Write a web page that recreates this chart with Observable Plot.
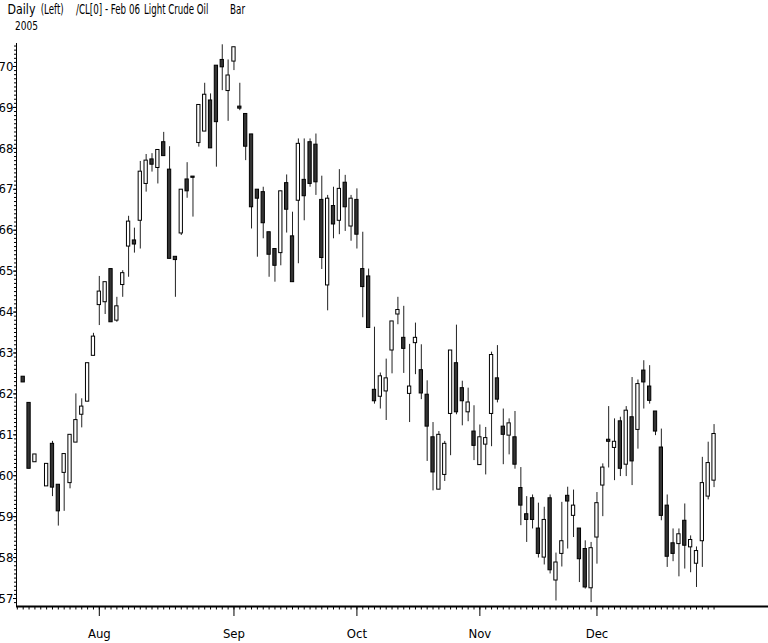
<!DOCTYPE html>
<html><head><meta charset="utf-8">
<script src="https://cdn.jsdelivr.net/npm/d3@7"></script>
<script src="https://cdn.jsdelivr.net/npm/@observablehq/plot@0.6"></script>
<style>
html,body{margin:0;padding:0;background:#fff;}
#wrap{position:relative;width:768px;height:643px;overflow:hidden;background:#fff;}
#head{position:absolute;left:0;top:0;}
#chart{position:absolute;left:0;top:0;}
</style></head><body>
<div id="wrap">
<div id="chart"></div>
<svg id="head" width="300" height="40" font-family='"Liberation Sans Narrow","Arial Narrow","DejaVu Sans Condensed","Liberation Sans",sans-serif' fill="#000">
  <text data-x="7.5" data-y="13.6" data-w="28" data-cap="10">Daily</text>
  <text data-x="40.7" data-y="13.6" data-w="23" data-cap="10">(Left)</text>
  <text data-x="76" data-y="13.6" data-w="64" data-cap="10">/CL[0] - Feb 06</text>
  <text data-x="144" data-y="13.6" data-w="64.5" data-cap="10">Light Crude Oil</text>
  <text data-x="230" data-y="13.6" data-w="15" data-cap="10">Bar</text>
  <text data-x="15" data-y="30" data-w="23" data-cap="9.3">2005</text>
</svg>
</div>
<script>
// Daily candles, CL Feb 06, 13 Jul 2005 .. 30 Dec 2005 (trading-day index 0..118)
const open = [62.42,61.78,60.33,60.00,59.74,60.78,59.78,60.07,59.82,60.81,61.49,61.81,62.93,
  64.17,64.24,65.05,63.79,64.66,65.60,65.75,66.23,67.13,67.73,67.52,68.15,67.48,65.35,65.92,67.24,67.31,
  68.13,68.41,69.17,70.02,70.16,69.40,70.12,69.02,68.84,68.34,66.99,66.93,65.95,65.54,65.44,67.15,65.85,66.72,67.23,68.15,68.09,
  66.74,64.65,66.59,66.23,67.16,66.09,66.74,65.05,64.87,62.10,61.93,62.06,63.06,63.94,63.37,62.00,63.24,62.58,61.98,
  60.94,59.66,60.02,61.51,62.75,62.14,61.55,61.08,60.26,60.76,61.51,62.38,61.20,60.98,60.94,59.70,59.06,59.45,58.71,
  58.00,59.45,57.44,58.09,59.51,59.02,58.71,58.21,57.25,58.49,59.76,60.88,60.68,61.33,60.27,61.43,61.12,62.57,62.18,61.57,
  60.69,59.27,58.35,58.33,58.90,58.25,57.85,58.40,59.49,59.88];
const high = [62.42,61.78,60.52,60.00,60.29,60.84,59.78,60.53,61.00,62.00,61.88,62.75,63.48,
  64.87,64.73,65.05,64.36,65.01,66.34,66.05,67.68,67.85,67.87,67.96,68.39,68.04,65.35,66.99,67.65,67.31,
  69.06,69.59,69.33,70.02,70.53,70.16,70.47,69.59,68.84,68.34,66.99,67.05,65.95,65.54,66.95,67.35,66.44,68.23,68.23,68.23,68.35,
  67.32,66.85,67.05,67.48,67.34,66.85,67.01,65.95,65.05,63.63,62.51,62.85,63.77,64.36,64.14,63.21,63.73,63.20,62.32,
  61.30,61.08,60.84,63.06,63.68,62.31,62.14,61.71,61.24,61.18,63.02,63.18,61.63,61.39,61.57,60.20,59.49,59.53,59.33,
  59.23,59.53,58.11,59.35,59.72,59.65,58.71,58.41,58.37,59.59,60.29,61.69,61.39,61.43,61.69,62.40,62.34,62.81,62.69,61.57,
  61.14,59.53,58.70,58.70,59.31,58.53,58.26,60.45,60.82,61.25];
const low = [62.28,60.17,60.33,60.00,59.74,59.49,58.77,59.13,59.68,60.81,61.17,61.81,62.93,
  63.67,63.94,63.75,63.75,64.36,64.85,65.44,65.54,66.93,67.42,67.13,67.81,65.30,64.36,65.87,66.78,66.32,
  68.03,68.41,68.00,67.54,69.41,68.66,69.90,68.92,67.70,66.03,65.34,65.79,64.85,64.73,65.13,65.93,64.73,65.18,66.23,67.05,66.85,
  65.04,64.03,65.79,65.89,65.97,65.73,65.54,63.86,63.61,61.75,61.63,61.35,62.49,63.69,62.50,61.30,62.47,61.86,60.35,
  59.63,59.66,59.86,60.49,61.49,61.22,61.32,60.37,60.26,60.02,60.71,61.78,60.27,60.51,60.16,58.78,58.37,58.70,57.99,
  57.82,57.60,56.94,57.77,58.21,58.49,57.39,57.23,56.90,57.84,59.00,60.19,59.88,59.98,59.98,59.76,60.65,61.63,61.75,60.98,
  58.90,57.76,57.90,57.53,57.72,57.63,57.27,57.76,59.41,59.71];
const close = [62.28,60.17,60.52,60.00,60.29,59.71,59.13,60.53,61.00,61.36,61.69,62.75,63.40,
  64.50,64.73,63.75,64.14,64.95,66.21,65.65,67.43,67.70,67.60,67.96,67.81,65.30,65.27,66.99,66.95,67.28,
  69.06,69.31,68.00,68.64,69.98,69.78,70.47,68.97,68.04,66.56,66.77,66.17,65.40,65.13,66.95,66.50,64.73,68.11,66.83,67.13,67.17,
  65.32,66.77,66.14,67.01,66.56,66.77,65.89,64.61,63.61,61.82,62.43,62.38,63.77,64.05,63.10,62.18,63.37,62.01,61.20,
  60.08,61.00,60.78,63.06,61.55,61.82,61.79,60.73,60.94,60.92,62.95,61.86,61.00,61.28,60.27,59.27,58.92,58.92,58.09,
  58.92,57.69,57.88,58.40,59.37,59.27,57.96,57.27,58.23,59.33,60.20,60.83,60.83,60.17,61.59,60.35,62.24,62.28,61.83,61.08,
  59.02,58.02,58.09,58.57,58.29,58.43,58.16,59.82,60.31,61.02];

const monthTickDays = [13, 36, 57, 78, 98];
const monthLabels = ["Aug", "Sep", "Oct", "Nov", "Dec"];
const yTickValues = [57, 58, 59, 60, 61, 62, 63, 64, 65, 66, 67, 68, 69, 70];

const data = open.map((o, i) => ({day: i, open: o, high: high[i], low: low[i], close: close[i]}));

const xMin = -1.144, xMax = 127.3, yMin = 56.805, yMax = 70.562;
const dayTicks = d3.range(-1, open.length);
const minorY = d3.range(569, 706).map(v => v / 10);

const font = '"Liberation Sans Narrow","Arial Narrow","DejaVu Sans Condensed","Liberation Sans",sans-serif';

const chart = Plot.plot({
  width: 768, height: 643,
  marginLeft: 16, marginRight: 0, marginTop: 43, marginBottom: 37,
  style: {fontFamily: font, fontSize: "13px", color: "#000", background: "#fff"},
  x: {type: "linear", domain: [xMin, xMax], label: null},
  y: {domain: [yMin, yMax], label: null},
  marks: [
    Plot.ruleX(data, {x: "day", y1: "low", y2: "high", stroke: "#222", strokeWidth: 1}),
    Plot.rect(data, {
      x1: d => d.day - 0.28, x2: d => d.day + 0.28,
      y1: "open", y2: "close",
      fill: d => d.close < d.open ? "#333" : "#fff",
      stroke: "#000", strokeWidth: 1
    }),
    Plot.axisY({ticks: minorY, tickSize: 2, tickFormat: () => "", label: null}),
    Plot.axisY({ticks: yTickValues, tickSize: 3, tickPadding: 0, tickFormat: d => String(d), label: null}),
    Plot.axisX({ticks: dayTicks, tickSize: 3.5, tickFormat: () => "", label: null}),
    Plot.axisX({ticks: monthTickDays, tickSize: 10, tickPadding: 12,
      tickFormat: d => monthLabels[monthTickDays.indexOf(d)], label: null}),
    Plot.ruleX([xMin], {stroke: "#000", strokeWidth: 1}),
    Plot.ruleY([yMin], {stroke: "#000", strokeWidth: 2})
  ]
});
document.getElementById("chart").appendChild(chart);

// Size header texts: natural width matches the reference, letters stretched vertically (condensed look)
document.querySelectorAll("#head text").forEach(t => {
  const w = +t.dataset.w, cap = +t.dataset.cap, x = +t.dataset.x, y = +t.dataset.y;
  t.setAttribute("font-size", 20);
  const nat = t.getComputedTextLength() || w;
  const fs = 20 * w / nat;
  t.setAttribute("font-size", fs.toFixed(2));
  const sy = cap / (0.73 * fs);
  t.setAttribute("transform", `translate(${x},${y}) scale(1,${sy.toFixed(3)})`);
});
</script>
</body></html>
